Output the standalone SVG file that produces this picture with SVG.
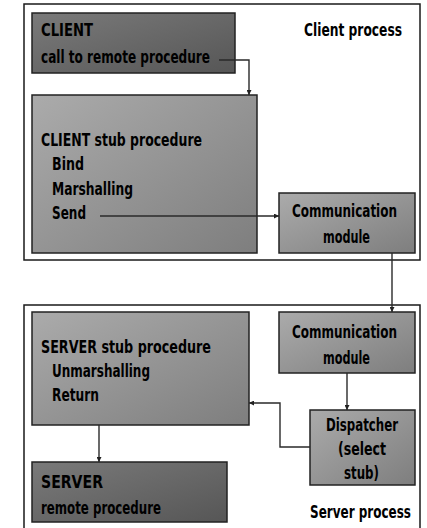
<svg xmlns="http://www.w3.org/2000/svg" width="427" height="528" viewBox="0 0 427 528">
  <defs>
    <linearGradient id="gDark" x1="0" y1="0" x2="1" y2="1">
      <stop offset="0" stop-color="#7a7a7a"/>
      <stop offset="1" stop-color="#565656"/>
    </linearGradient>
    <linearGradient id="gLight" x1="0" y1="0" x2="1" y2="1">
      <stop offset="0" stop-color="#ababab"/>
      <stop offset="1" stop-color="#7e7e7e"/>
    </linearGradient>
    <marker id="arrow" viewBox="0 0 6 6" refX="6" refY="3" markerWidth="5" markerHeight="5" orient="auto" markerUnits="userSpaceOnUse">
      <path d="M0,0 L6,3 L0,6 z" fill="#222"/>
    </marker>
    <style>
      .frame { fill: #fff; stroke: #1a1a1a; stroke-width: 1.5; }
      .dark { fill: url(#gDark); stroke: #222; stroke-width: 1.5; }
      .light { fill: url(#gLight); stroke: #222; stroke-width: 1.5; }
      text { font-family: "DejaVu Sans Condensed", "Liberation Sans Narrow", "Liberation Sans", sans-serif; font-weight: bold; font-size: 17px; fill: #000; }
      .link { fill: none; stroke: #2a2a2a; stroke-width: 1.4; marker-end: url(#arrow); }
    </style>
  </defs>

  <rect width="427" height="528" fill="#fff"/>

  <!-- process frames -->
  <g id="client-process">
    <rect class="frame" x="24" y="4" width="396" height="256"/>
    <text x="304" y="36" textLength="98" lengthAdjust="spacingAndGlyphs">Client process</text>
  </g>
  <g id="server-process">
    <rect class="frame" x="24" y="305" width="396" height="240"/>
    <text x="310" y="518" textLength="101" lengthAdjust="spacingAndGlyphs">Server process</text>
  </g>

  <!-- client side -->
  <g id="client">
    <rect class="dark" x="32" y="13" width="203" height="60"/>
    <text x="41" y="36" textLength="52" lengthAdjust="spacingAndGlyphs">CLIENT</text>
    <text x="41" y="63" textLength="169" lengthAdjust="spacingAndGlyphs">call to remote procedure</text>
  </g>
  <g id="client-stub">
    <rect class="light" x="32" y="95" width="225" height="158"/>
    <text x="41" y="146" textLength="161" lengthAdjust="spacingAndGlyphs">CLIENT stub procedure</text>
    <text x="52" y="170" textLength="32" lengthAdjust="spacingAndGlyphs">Bind</text>
    <text x="52" y="195" textLength="81" lengthAdjust="spacingAndGlyphs">Marshalling</text>
    <text x="52" y="219" textLength="34" lengthAdjust="spacingAndGlyphs">Send</text>
  </g>
  <g id="client-comm">
    <rect class="light" x="279" y="193" width="136" height="60"/>
    <text x="292" y="217" textLength="105" lengthAdjust="spacingAndGlyphs">Communication</text>
    <text x="323" y="243" textLength="47" lengthAdjust="spacingAndGlyphs">module</text>
  </g>

  <!-- server side -->
  <g id="server-comm">
    <rect class="light" x="279" y="312" width="136" height="61"/>
    <text x="292" y="338" textLength="105" lengthAdjust="spacingAndGlyphs">Communication</text>
    <text x="323" y="364" textLength="47" lengthAdjust="spacingAndGlyphs">module</text>
  </g>
  <g id="dispatcher">
    <rect class="light" x="310" y="410" width="105" height="75"/>
    <text x="326" y="431" textLength="72" lengthAdjust="spacingAndGlyphs">Dispatcher</text>
    <text x="338" y="455" textLength="48" lengthAdjust="spacingAndGlyphs">(select</text>
    <text x="344" y="479" textLength="35" lengthAdjust="spacingAndGlyphs">stub)</text>
  </g>
  <g id="server-stub">
    <rect class="light" x="32" y="312" width="217" height="113"/>
    <text x="41" y="353" textLength="170" lengthAdjust="spacingAndGlyphs">SERVER stub procedure</text>
    <text x="52" y="377" textLength="98" lengthAdjust="spacingAndGlyphs">Unmarshalling</text>
    <text x="52" y="401" textLength="47" lengthAdjust="spacingAndGlyphs">Return</text>
  </g>
  <g id="server">
    <rect class="dark" x="32" y="462" width="195" height="60"/>
    <text x="41" y="488" textLength="62" lengthAdjust="spacingAndGlyphs">SERVER</text>
    <text x="41" y="514" textLength="120" lengthAdjust="spacingAndGlyphs">remote procedure</text>
  </g>

  <!-- connectors -->
  <g id="connectors">
    <path class="link" d="M219,60 H249 V95"/>
    <path class="link" d="M100,216 H279"/>
    <path class="link" d="M392,253 V312"/>
    <path class="link" d="M347,373 V410"/>
    <path class="link" d="M310,447 H280 V403 H249"/>
    <path class="link" d="M99,425 V462"/>
  </g>
</svg>
